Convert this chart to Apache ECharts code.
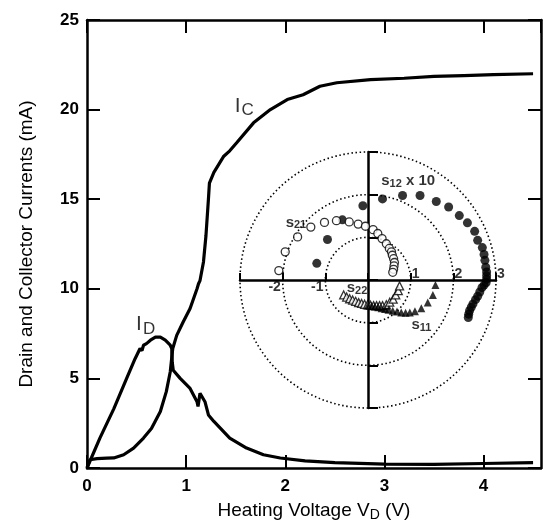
<!DOCTYPE html>
<html>
<head>
<meta charset="utf-8">
<script src="https://cdn.jsdelivr.net/npm/echarts@6/dist/echarts.min.js"></script>
<style>
  html, body { margin: 0; background: #fff; }
  #chart { width: 546px; height: 527px; }
</style>
</head>
<body>
<div id="chart"></div>
<script>
// Currents vs heating voltage, with an inset polar plot of s-parameters
var FONT = "'Liberation Sans', Arial, sans-serif";

// main curves (V_D in volts, current in mA)
var icV = [0, 0.03, 0.1, 0.2, 0.27, 0.37, 0.47, 0.57, 0.65, 0.74, 0.8, 0.84, 0.865, 0.905, 0.97, 1.04, 1.11, 1.125, 1.14, 1.175, 1.2, 1.225, 1.235, 1.28, 1.38, 1.44, 1.51, 1.68, 1.85, 2.02, 2.18, 2.35, 2.52, 2.86, 3.2, 3.5, 3.8, 4.1, 4.5];
var icI = [0, 0.46, 0.52, 0.55, 0.56, 0.74, 1.11, 1.67, 2.2, 3.15, 4.26, 5.37, 6.67, 7.4, 8.15, 8.9, 10.0, 10.28, 10.46, 11.5, 12.96, 15.0, 15.9, 16.5, 17.4, 17.7, 18.15, 19.26, 20.0, 20.56, 20.83, 21.3, 21.5, 21.67, 21.75, 21.85, 21.9, 21.95, 22.0];
var idV = [0, 0.13, 0.27, 0.4, 0.485, 0.535, 0.555, 0.57, 0.6, 0.64, 0.69, 0.74, 0.79, 0.84, 0.855, 0.86, 0.87, 0.94, 1.04, 1.11, 1.12, 1.14, 1.19, 1.225, 1.28, 1.44, 1.61, 1.78, 1.95, 2.2, 2.5, 3.0, 3.5, 4.0, 4.5];
var idI = [0, 1.67, 3.3, 5.0, 6.1, 6.67, 6.55, 6.85, 6.94, 7.13, 7.3, 7.3, 7.13, 6.85, 6.67, 5.9, 5.46, 5.0, 4.44, 3.7, 3.43, 4.17, 3.7, 2.96, 2.6, 1.67, 1.11, 0.74, 0.56, 0.4, 0.3, 0.22, 0.2, 0.25, 0.3];

// inset: s-parameters as [real, imag]
var s12x10 = [[-1.2, 0.39], [-0.95, 0.95], [-0.6, 1.41], [-0.12, 1.74], [0.34, 1.9], [0.81, 1.98], [1.22, 1.98], [1.6, 1.84], [1.89, 1.71], [2.14, 1.51], [2.33, 1.34], [2.5, 1.14], [2.57, 0.93], [2.68, 0.76], [2.72, 0.6], [2.74, 0.46], [2.76, 0.3], [2.78, 0.19], [2.78, 0.1], [2.78, 0.02], [2.77, -0.06], [2.72, -0.12], [2.67, -0.18], [2.62, -0.28], [2.57, -0.38], [2.52, -0.46], [2.46, -0.56], [2.42, -0.64], [2.38, -0.72], [2.36, -0.8], [2.35, -0.88]];
var s21 = [[-2.09, 0.22], [-1.94, 0.66], [-1.65, 1.01], [-1.34, 1.24], [-1.02, 1.35], [-0.74, 1.39], [-0.44, 1.36], [-0.23, 1.31], [-0.06, 1.26], [0.12, 1.18], [0.23, 1.09], [0.33, 0.97], [0.43, 0.85], [0.5, 0.74], [0.55, 0.66], [0.57, 0.58], [0.6, 0.5], [0.62, 0.41], [0.61, 0.33], [0.6, 0.25], [0.58, 0.18]];
var s22 = [[-0.57, -0.35], [-0.5, -0.4], [-0.43, -0.44], [-0.36, -0.47], [-0.29, -0.5], [-0.22, -0.53], [-0.15, -0.55], [-0.08, -0.57], [-0.01, -0.58], [0.06, -0.59], [0.13, -0.6], [0.2, -0.6], [0.27, -0.6], [0.34, -0.6], [0.43, -0.58], [0.51, -0.52], [0.59, -0.45], [0.65, -0.35], [0.71, -0.25], [0.74, -0.14]];
var s11 = [[1.58, -0.12], [1.52, -0.35], [1.4, -0.53], [1.25, -0.66], [1.1, -0.73], [0.98, -0.76], [0.88, -0.77], [0.78, -0.76], [0.68, -0.74], [0.58, -0.72], [0.48, -0.7], [0.4, -0.68], [0.32, -0.66], [0.24, -0.64], [0.16, -0.62], [0.08, -0.61], [0.0, -0.6]];

// annotations
var curveLabels = [{ value: [1.49, 20.2], text: '{a|I}{b|C}' }, { value: [0.495, 8.0], text: '{a|I}{b|D}' }];
var insetLabels = [
  { value: [0.31, 2.33], text: '{s|s}{sub|12}{s| x 10}' },
  { value: [-1.93, 1.35], text: '{s|s}{sub|21}' },
  { value: [-0.5, -0.19], text: '{s|s}{sub|22}' },
  { value: [1.02, -1.05], text: '{s|s}{sub|11}' }
];
var insetTicks = [-2, -1, 1, 2, 3];

function zip(a, b) {
  return a.map(function (v, i) { return [v, b[i]]; });
}

var chart = echarts.init(document.getElementById('chart'));

var axisLine = { lineStyle: { color: '#000', width: 2.5 } };
var tickStyle = { color: '#000', width: 2 };
var noSplit = { show: false };

var option = {
  animation: false,
  backgroundColor: '#fff',
  textStyle: { fontFamily: FONT, color: '#000' },
  grid: [
    { left: 87, right: 5, top: 20, bottom: 55 },
    { left: 240, top: 152, width: 256, height: 256 }
  ],
  polar: { center: [368, 280], radius: 128 },
  angleAxis: { show: false, min: 0, max: 360 },
  radiusAxis: {
    min: 0, max: 3, interval: 1,
    axisLine: { show: false }, axisTick: { show: false }, axisLabel: { show: false },
    splitLine: { show: true, lineStyle: { color: '#000', width: 1.6, type: [1.5, 2.6] } }
  },
  xAxis: [
    {
      gridIndex: 0, type: 'value', min: 0, max: 4.58, interval: 1, position: 'bottom',
      axisLine: Object.assign({ onZero: false }, axisLine),
      axisTick: { inside: true, length: 13, lineStyle: tickStyle },
      axisLabel: { color: '#000', fontSize: 17, fontWeight: 'bold', fontFamily: FONT, margin: 10, showMaxLabel: false },
      splitLine: noSplit,
      name: 'Heating Voltage V{sub|D} (V)', nameLocation: 'middle', nameGap: 32,
      nameTextStyle: {
        color: '#000', fontSize: 19, fontFamily: FONT,
        rich: { sub: { fontSize: 14, fontFamily: FONT, color: '#000', padding: [8, 0, 0, 0] } }
      }
    },
    {
      gridIndex: 0, type: 'value', min: 0, max: 4.58, interval: 1, position: 'top',
      axisLine: Object.assign({ onZero: false }, axisLine),
      axisTick: { inside: true, length: 13, lineStyle: tickStyle },
      axisLabel: { show: false }, splitLine: noSplit
    },
    {
      gridIndex: 1, type: 'value', min: -3, max: 3, interval: 1,
      axisLine: Object.assign({ onZero: true }, axisLine),
      axisTick: { inside: true, length: 7, lineStyle: tickStyle },
      axisLabel: { show: false }, splitLine: noSplit
    }
  ],
  yAxis: [
    {
      gridIndex: 0, type: 'value', min: 0, max: 25, interval: 5, position: 'left',
      axisLine: Object.assign({ onZero: false }, axisLine),
      axisTick: { inside: true, length: 13, lineStyle: tickStyle },
      axisLabel: { color: '#000', fontSize: 17, fontWeight: 'bold', fontFamily: FONT, margin: 8 },
      splitLine: noSplit,
      name: 'Drain and Collector Currents (mA)', nameLocation: 'middle', nameGap: 51,
      nameTextStyle: { color: '#000', fontSize: 19, fontFamily: FONT }
    },
    {
      gridIndex: 0, type: 'value', min: 0, max: 25, interval: 5, position: 'right',
      axisLine: Object.assign({ onZero: false }, axisLine),
      axisTick: { inside: true, length: 13, lineStyle: tickStyle },
      axisLabel: { show: false }, splitLine: noSplit
    },
    {
      gridIndex: 1, type: 'value', min: -3, max: 3, interval: 1,
      axisLine: Object.assign({ onZero: true }, axisLine),
      axisTick: { inside: true, length: 10, lineStyle: tickStyle },
      axisLabel: { show: false }, splitLine: noSplit
    }
  ],
  series: [
    { type: 'scatter', coordinateSystem: 'polar', data: [] },
    {
      name: 'I_C', type: 'line', xAxisIndex: 0, yAxisIndex: 0, data: zip(icV, icI),
      showSymbol: false, lineStyle: { color: '#000', width: 3.2 }, silent: true
    },
    {
      name: 'I_D', type: 'line', xAxisIndex: 0, yAxisIndex: 0, data: zip(idV, idI),
      showSymbol: false, lineStyle: { color: '#000', width: 3.2 }, silent: true
    },
    {
      type: 'scatter', xAxisIndex: 0, yAxisIndex: 0, symbolSize: 0, silent: true,
      data: curveLabels.map(function (d) { return { value: d.value, label: { formatter: d.text } }; }),
      label: {
        show: true, position: 'right', distance: 0,
        rich: {
          a: { fontSize: 21, fontFamily: FONT, color: '#000' },
          b: { fontSize: 17, fontFamily: FONT, color: '#000', padding: [9, 0, 0, 1] }
        }
      }
    },
    {
      name: 's12 x 10', type: 'scatter', xAxisIndex: 2, yAxisIndex: 2, data: s12x10,
      symbol: 'circle', symbolSize: 9, itemStyle: { color: '#000' }, silent: true
    },
    {
      name: 's21', type: 'scatter', xAxisIndex: 2, yAxisIndex: 2, data: s21,
      symbol: 'circle', symbolSize: 8, itemStyle: { color: '#fff', borderColor: '#000', borderWidth: 1.3 }, silent: true
    },
    {
      name: 's22', type: 'scatter', xAxisIndex: 2, yAxisIndex: 2, data: s22,
      symbol: 'triangle', symbolSize: 8, itemStyle: { color: '#fff', borderColor: '#000', borderWidth: 1.3 }, silent: true
    },
    {
      name: 's11', type: 'scatter', xAxisIndex: 2, yAxisIndex: 2, data: s11,
      symbol: 'triangle', symbolSize: 8, itemStyle: { color: '#000' }, silent: true
    },
    {
      type: 'scatter', xAxisIndex: 2, yAxisIndex: 2, symbolSize: 0, silent: true,
      data: insetLabels.map(function (d) { return { value: d.value, label: { formatter: d.text } }; }),
      label: {
        show: true, position: 'right', distance: 0,
        rich: {
          s: { fontSize: 15, fontFamily: FONT, color: '#000', fontWeight: 'bold' },
          sub: { fontSize: 11, fontFamily: FONT, color: '#000', fontWeight: 'bold', padding: [6, 0, 0, 0] }
        }
      }
    },
    {
      type: 'scatter', xAxisIndex: 2, yAxisIndex: 2, symbolSize: 0, silent: true,
      data: insetTicks.map(function (v) {
        return {
          value: [v, 0],
          label: v > 0
            ? { position: 'top', offset: [5, 1] }
            : { position: 'bottom', offset: [-8, 0] }
        };
      }),
      label: {
        show: true, distance: 0, fontSize: 14, fontWeight: 'bold', fontFamily: FONT, color: '#000',
        formatter: function (p) { return String(p.value[0]); }
      }
    }
  ]
};

chart.setOption(option);
</script>
</body>
</html>
